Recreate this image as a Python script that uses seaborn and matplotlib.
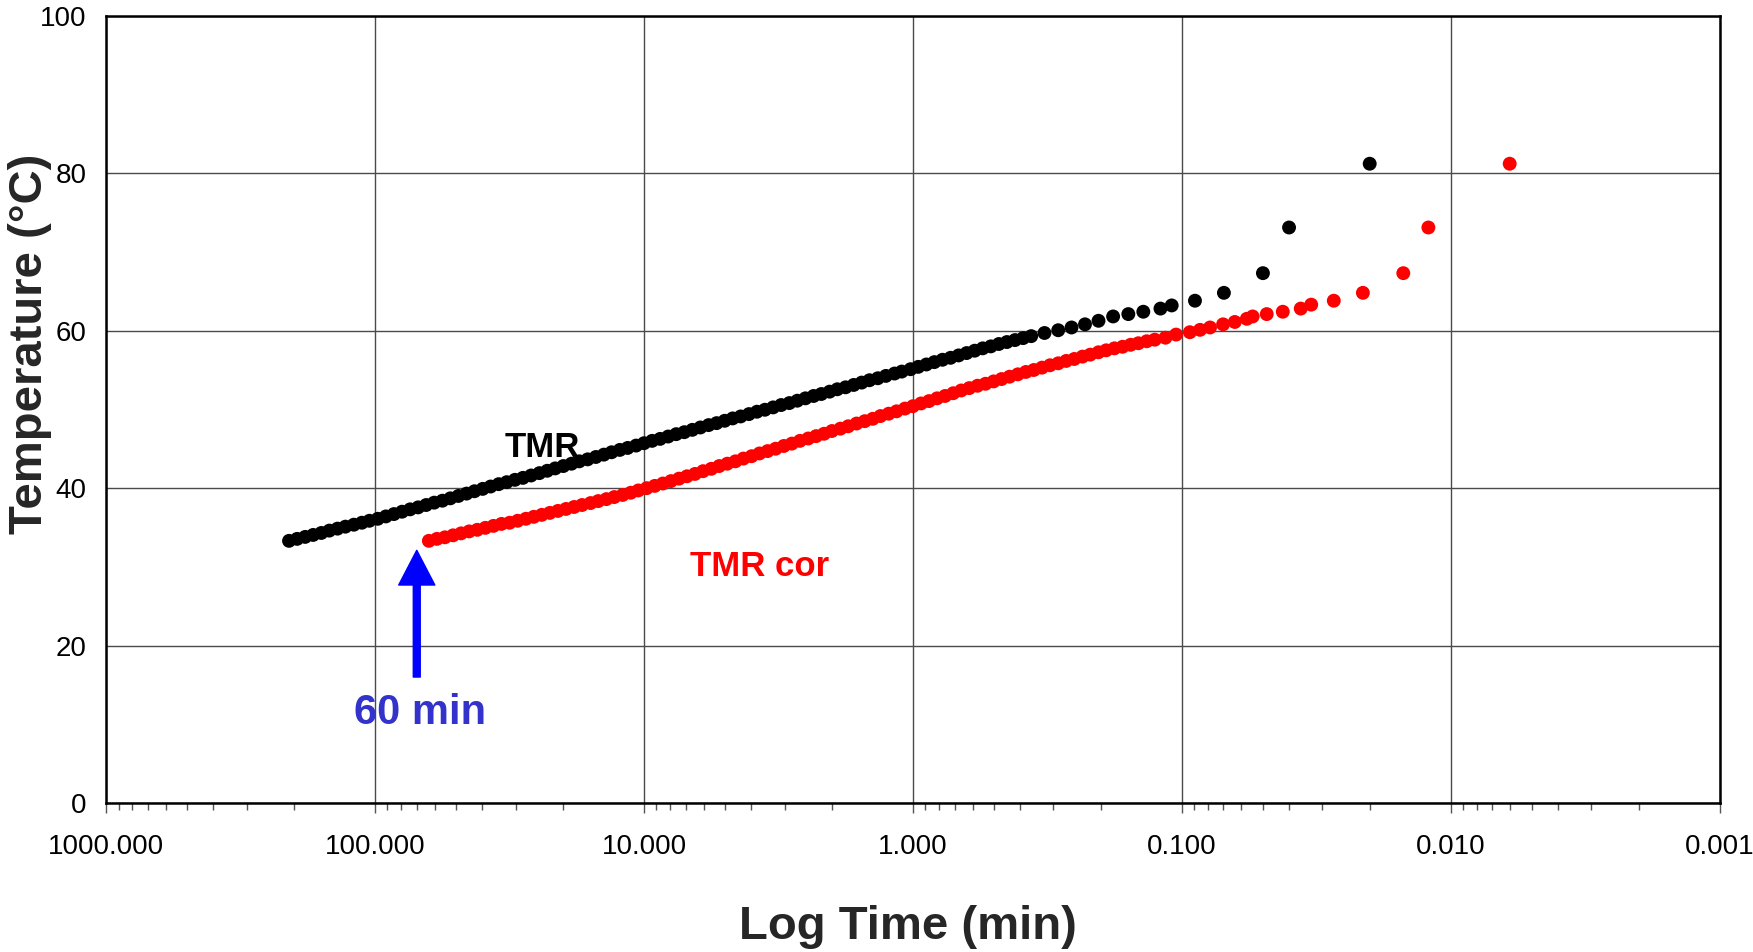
import numpy as np
import pandas as pd
import matplotlib
matplotlib.use("Agg")
import matplotlib.pyplot as plt
import matplotlib.ticker as mticker
import seaborn as sns

# TMR (black) - time in min, temperature in degC
tmr_time = [209, 195, 182, 170, 158.5, 148, 138, 129, 120, 112, 105, 97.7,
            91.2, 85.1, 79.4, 74.1, 69.2, 64.6, 60.3, 56.2, 52.5, 49.0, 45.7, 42.7,
            39.8, 37.2, 34.7, 32.4, 30.2, 28.2, 26.3, 24.5, 22.9, 21.4, 19.95, 18.6,
            17.4, 16.2, 15.1, 14.1, 13.2, 12.3, 11.5, 10.7, 10.0,
            9.33, 8.71, 8.13, 7.59, 7.08, 6.61, 6.17, 5.75, 5.37, 5.01, 4.68, 4.37,
            4.07, 3.80, 3.55, 3.31, 3.09, 2.88, 2.69, 2.51, 2.34, 2.19, 2.04, 1.91,
            1.78, 1.66, 1.55, 1.45, 1.35, 1.26, 1.17, 1.10, 1.02,
            0.955, 0.891, 0.832, 0.776, 0.724, 0.676, 0.631, 0.589, 0.550, 0.513,
            0.479, 0.447, 0.417, 0.389, 0.363,
            0.324, 0.288, 0.257, 0.229, 0.204, 0.180, 0.158, 0.139, 0.120, 0.109,
            0.0893, 0.0697, 0.0499, 0.0399, 0.0200]
tmr_temp = [33.3, 33.55, 33.8, 34.05, 34.3, 34.6, 34.85, 35.1, 35.35, 35.6, 35.85, 36.1,
            36.4, 36.7, 37.0, 37.3, 37.55, 37.85, 38.15, 38.4, 38.7, 39.0, 39.3, 39.6,
            39.9, 40.2, 40.5, 40.75, 41.05, 41.3, 41.6, 41.9, 42.2, 42.5, 42.8, 43.1,
            43.4, 43.65, 43.95, 44.25, 44.55, 44.85, 45.1, 45.4, 45.7,
            46.0, 46.25, 46.55, 46.85, 47.1, 47.4, 47.7, 48.0, 48.25, 48.55, 48.85, 49.1,
            49.4, 49.7, 49.95, 50.25, 50.55, 50.8, 51.1, 51.4, 51.7, 51.95, 52.25, 52.55,
            52.8, 53.1, 53.4, 53.7, 53.95, 54.25, 54.55, 54.8, 55.1,
            55.4, 55.7, 56.0, 56.3, 56.55, 56.85, 57.15, 57.45, 57.75, 58.0,
            58.3, 58.55, 58.8, 59.05, 59.3,
            59.7, 60.05, 60.4, 60.8, 61.25, 61.8, 62.1, 62.4, 62.8, 63.2,
            63.8, 64.8, 67.3, 73.1, 81.2]

# TMR cor (red)
cor_time = [63.1, 58.9, 55.0, 51.3, 47.9, 44.7, 41.7, 38.9, 36.3, 33.9,
            31.6, 29.5, 27.5, 25.7, 24.0, 22.4, 20.9, 19.5, 18.2, 17.0,
            15.8, 14.8, 13.8, 12.9, 12.0, 11.2, 10.5, 9.77,
            9.12, 8.51, 7.94, 7.41, 6.92, 6.46, 6.03, 5.62, 5.25, 4.90,
            4.57, 4.27, 3.98, 3.72, 3.47, 3.24, 3.02, 2.82, 2.63, 2.45,
            2.29, 2.14, 2.00, 1.86, 1.74, 1.62, 1.51, 1.41, 1.32, 1.23,
            1.15, 1.07, 1.00,
            0.933, 0.871, 0.813, 0.759, 0.708, 0.661, 0.617, 0.575, 0.537, 0.501,
            0.468, 0.437, 0.407, 0.380, 0.355, 0.331, 0.309, 0.288, 0.269, 0.251,
            0.234, 0.219, 0.204, 0.191, 0.178, 0.166, 0.155, 0.145, 0.135, 0.126,
            0.115, 0.105, 0.0933, 0.0855, 0.0785, 0.0702, 0.0635, 0.0573, 0.0545,
            0.0483, 0.0421, 0.0361, 0.0330,
            0.0272, 0.0212, 0.0150, 0.0121, 0.00603]
cor_temp = [33.3, 33.55, 33.75, 34.0, 34.25, 34.5, 34.7, 34.95, 35.2, 35.45,
            35.6, 35.85, 36.1, 36.35, 36.6, 36.85, 37.1, 37.35, 37.6, 37.85,
            38.1, 38.35, 38.6, 38.86, 39.13, 39.41, 39.7, 39.99,
            40.28, 40.58, 40.89, 41.2, 41.5, 41.8, 42.15, 42.45, 42.8, 43.1,
            43.4, 43.75, 44.05, 44.4, 44.7, 45.0, 45.35, 45.65, 46.0, 46.3,
            46.6, 46.9, 47.25, 47.55, 47.85, 48.2, 48.5, 48.8, 49.15, 49.45,
            49.75, 50.1, 50.4,
            50.75, 51.05, 51.4, 51.7, 52.05, 52.4, 52.7, 53.0, 53.25, 53.55,
            53.85, 54.15, 54.45, 54.75, 55.0, 55.3, 55.6, 55.85, 56.15, 56.4,
            56.7, 56.95, 57.25, 57.5, 57.75, 57.95, 58.2, 58.4, 58.65, 58.85,
            59.1, 59.5, 59.8, 60.1, 60.4, 60.8, 61.1, 61.5, 61.8,
            62.1, 62.4, 62.8, 63.3,
            63.8, 64.8, 67.3, 73.1, 81.2]

x_ticks = [1000, 100, 10, 1, 0.1, 0.01, 0.001]
x_labels = ["1000.000", "100.000", "10.000", "1.000", "0.100", "0.010", "0.001"]
y_ticks = [0, 20, 40, 60, 80, 100]

sns.set_style("white")
plt.rcParams["font.family"] = ["Liberation Sans", "DejaVu Sans"]

df = pd.concat([
    pd.DataFrame({"time": tmr_time, "temp": tmr_temp, "series": "TMR"}),
    pd.DataFrame({"time": cor_time, "temp": cor_temp, "series": "TMR cor"}),
], ignore_index=True)

fig = plt.figure(figsize=(17.53, 9.52), dpi=100)
ax = fig.add_axes([0.0606, 0.1565, 0.9203, 0.827])

sns.scatterplot(data=df, x="time", y="temp", hue="series",
                palette={"TMR": "black", "TMR cor": "red"},
                s=100, linewidth=0, legend=False, ax=ax, zorder=3)

ax.set_xscale("log")
ax.set_xlim(1000, 0.001)
ax.set_ylim(0, 100)
ax.xaxis.set_major_locator(mticker.FixedLocator(x_ticks))
ax.xaxis.set_major_formatter(mticker.FixedFormatter(x_labels))
ax.xaxis.set_minor_locator(mticker.LogLocator(base=10, subs=np.arange(2, 10), numticks=20))
ax.xaxis.set_minor_formatter(mticker.NullFormatter())
ax.set_yticks(y_ticks)

ax.set_axisbelow(True)
ax.grid(True, which="major", color="#4a4a4a", linewidth=1.0)
ax.tick_params(axis="x", which="major", bottom=True, direction="out", length=7,
               width=1, color="#555555", pad=15, labelsize=20, labelcolor="black")
ax.tick_params(axis="x", which="minor", bottom=True, direction="out", length=5,
               width=1, color="#555555")
ax.tick_params(axis="y", length=0, pad=14, labelsize=20, labelcolor="black")

for sp in ax.spines.values():
    sp.set_visible(True)
    sp.set_color("black")
    sp.set_linewidth(1.8)

ax.set_xlabel("Log Time (min)", fontsize=34, fontweight="bold")
ax.xaxis.set_label_coords(0.497, -0.1575)
ax.xaxis.label.set_va("center")
ax.set_ylabel("Temperature (°C)", fontsize=34, fontweight="bold")
ax.yaxis.set_label_coords(-0.047, 0.5835)
ax.yaxis.label.set_va("center")

ax.text(23.9, 45.2, "TMR", fontsize=25, fontweight="bold", color="black",
        ha="center", va="center", zorder=2)
ax.text(3.71, 30.0, "TMR cor", fontsize=25, fontweight="bold", color="red",
        ha="center", va="center", zorder=2)
ax.text(68.1, 11.4, "60 min", fontsize=30, fontweight="bold", color="#3333CC",
        ha="center", va="center", zorder=2)
ax.annotate("", xy=(70, 32.1), xytext=(70, 16.0),
            arrowprops=dict(arrowstyle="simple,head_length=25,head_width=26,tail_width=5",
                            mutation_scale=1, color="blue", shrinkA=0, shrinkB=0))

fig.savefig("out.png", dpi=100)
